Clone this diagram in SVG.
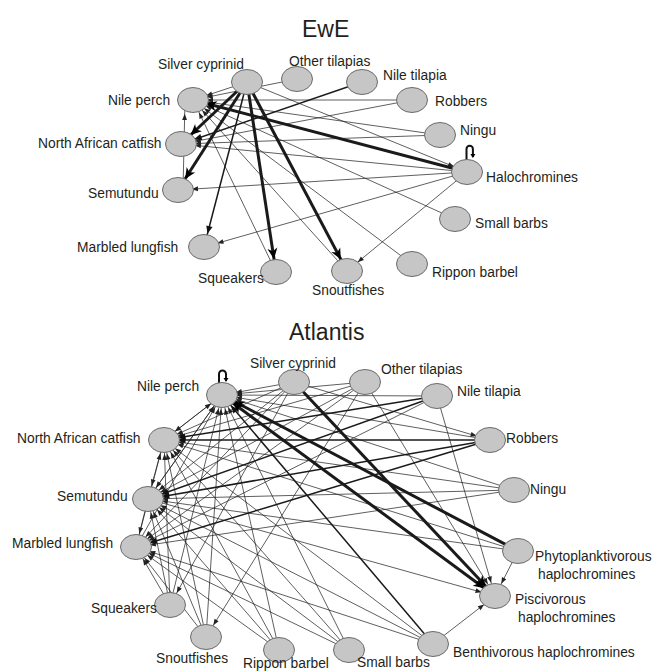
<svg xmlns="http://www.w3.org/2000/svg" width="656" height="672" viewBox="0 0 656 672">
<style>
text{font-family:"Liberation Sans",Arial,sans-serif;font-size:13.8px;fill:#231f20}
.title{font-size:23px}
ellipse{fill:#c6c6c6;stroke:#6a6a6a;stroke-width:1}
line{stroke:#1a1a1a}
.t{stroke-width:0.7;marker-end:url(#mt)}
.m{stroke-width:1.5;marker-end:url(#mm)}
.k{stroke-width:3;marker-end:url(#mk)}
.loop{fill:none;stroke:#111;stroke-width:2;marker-end:url(#ml)}
</style>
<defs>
<marker id="mt" markerUnits="userSpaceOnUse" markerWidth="1" markerHeight="1" orient="auto" overflow="visible"><path d="M-20,-2.4 L-13.8,0 L-20,2.4 z" fill="#222"/></marker>
<marker id="mm" markerUnits="userSpaceOnUse" markerWidth="1" markerHeight="1" orient="auto" overflow="visible"><path d="M-21.5,-3.2 L-13.6,0 L-21.5,3.2 z" fill="#111"/></marker>
<marker id="mk" markerUnits="userSpaceOnUse" markerWidth="1" markerHeight="1" orient="auto" overflow="visible"><path d="M-24,-5 L-13.2,0 L-24,5 L-21,0 z" fill="#000"/></marker>
<marker id="ms" markerUnits="userSpaceOnUse" markerWidth="1" markerHeight="1" orient="auto-start-reverse" overflow="visible"><path d="M-24,-5 L-13.2,0 L-24,5 L-21,0 z" fill="#000"/></marker>
<marker id="ml" markerUnits="userSpaceOnUse" markerWidth="1" markerHeight="1" orient="auto" overflow="visible"><path d="M-3,-2.5 L1,0 L-3,2.5 z" fill="#000"/></marker>
</defs>

<text class="title" x="302" y="37">EwE</text>
<text class="title" x="289" y="340">Atlantis</text>

<g id="connectors">
<!-- EwE -->
<line class="t" x1="247" y1="82" x2="193" y2="100"/>
<line class="t" x1="297" y1="79" x2="193" y2="100"/>
<line class="t" x1="412" y1="100" x2="193" y2="100"/>
<line class="t" x1="440" y1="135" x2="193" y2="100"/>
<line class="t" x1="455" y1="219" x2="193" y2="100"/>
<line class="t" x1="412" y1="264" x2="193" y2="100"/>
<line class="t" x1="347" y1="271" x2="193" y2="100"/>
<line class="t" x1="276" y1="272" x2="193" y2="100"/>
<line class="t" x1="183" y1="190" x2="185" y2="100"/>
<line class="t" x1="412" y1="100" x2="181" y2="144"/>
<line class="t" x1="440" y1="135" x2="181" y2="144"/>
<line class="t" x1="467" y1="172" x2="181" y2="144"/>
<line class="t" x1="467" y1="172" x2="178" y2="190"/>
<line class="t" x1="467" y1="172" x2="204" y2="247"/>
<line class="t" x1="467" y1="172" x2="347" y2="271"/>
<line class="t" x1="247" y1="82" x2="467" y2="172"/>
<line class="m" x1="362" y1="82" x2="181" y2="144"/>
<line class="m" x1="247" y1="82" x2="204" y2="247"/>
<line class="k" x1="247" y1="82" x2="181" y2="144"/>
<line class="k" x1="247" y1="82" x2="178" y2="190"/>
<line class="k" x1="247" y1="82" x2="276" y2="272"/>
<line class="k" x1="247" y1="82" x2="347" y2="271"/>
<line class="k" x1="467" y1="172" x2="193" y2="100"/>
<path class="loop" d="M466.5,160 V149 A3.2,3.2 0 0 1 472.9,149 V157"/>

<!-- Atlantis -->
<line class="t" x1="294" y1="382" x2="222" y2="395"/>
<line class="t" x1="365" y1="382" x2="222" y2="395"/>
<line class="t" x1="437" y1="396" x2="222" y2="395"/>
<line class="t" x1="490" y1="440" x2="222" y2="395"/>
<line class="t" x1="514" y1="490" x2="222" y2="395"/>
<line class="t" x1="349" y1="650" x2="222" y2="395"/>
<line class="t" x1="279" y1="650" x2="222" y2="395"/>
<line class="t" x1="206" y1="637" x2="222" y2="395"/>
<line class="t" x1="170" y1="605" x2="222" y2="395"/>
<line class="t" x1="136" y1="547" x2="222" y2="395"/>
<line class="t" x1="148" y1="499" x2="222" y2="395"/>
<line class="t" x1="164" y1="440" x2="222" y2="395"/>

<line class="t" x1="294" y1="382" x2="164" y2="440"/>
<line class="t" x1="365" y1="382" x2="164" y2="440"/>
<line class="t" x1="514" y1="490" x2="164" y2="440"/>
<line class="t" x1="518" y1="551" x2="164" y2="440"/>
<line class="t" x1="433" y1="644" x2="164" y2="440"/>
<line class="t" x1="349" y1="650" x2="164" y2="440"/>
<line class="t" x1="279" y1="650" x2="164" y2="440"/>
<line class="t" x1="206" y1="637" x2="164" y2="440"/>
<line class="t" x1="170" y1="605" x2="164" y2="440"/>
<line class="t" x1="136" y1="547" x2="164" y2="440"/>
<line class="t" x1="222" y1="395" x2="164" y2="440"/>

<line class="t" x1="222" y1="395" x2="148" y2="499"/>
<line class="t" x1="294" y1="382" x2="148" y2="499"/>
<line class="t" x1="365" y1="382" x2="148" y2="499"/>
<line class="t" x1="514" y1="490" x2="148" y2="499"/>
<line class="t" x1="518" y1="551" x2="148" y2="499"/>
<line class="t" x1="433" y1="644" x2="148" y2="499"/>
<line class="t" x1="349" y1="650" x2="148" y2="499"/>
<line class="t" x1="279" y1="650" x2="148" y2="499"/>
<line class="t" x1="206" y1="637" x2="148" y2="499"/>
<line class="t" x1="170" y1="605" x2="148" y2="499"/>
<line class="t" x1="164" y1="440" x2="148" y2="499"/>

<line class="t" x1="294" y1="382" x2="136" y2="547"/>
<line class="t" x1="365" y1="382" x2="136" y2="547"/>
<line class="t" x1="437" y1="396" x2="136" y2="547"/>
<line class="t" x1="514" y1="490" x2="136" y2="547"/>
<line class="t" x1="433" y1="644" x2="136" y2="547"/>
<line class="t" x1="349" y1="650" x2="136" y2="547"/>
<line class="t" x1="279" y1="650" x2="136" y2="547"/>
<line class="t" x1="206" y1="637" x2="136" y2="547"/>
<line class="t" x1="170" y1="605" x2="136" y2="547"/>
<line class="t" x1="148" y1="499" x2="136" y2="547"/>

<line class="t" x1="294" y1="382" x2="170" y2="605"/>
<line class="t" x1="365" y1="382" x2="206" y2="637"/>
<line class="t" x1="294" y1="382" x2="490" y2="440"/>
<line class="t" x1="518" y1="551" x2="495" y2="596"/>
<line class="t" x1="433" y1="644" x2="495" y2="596"/>
<line class="t" x1="365" y1="382" x2="495" y2="596"/>
<line class="t" x1="437" y1="396" x2="495" y2="596"/>
<line class="t" x1="148" y1="499" x2="495" y2="596"/>

<line class="m" x1="437" y1="396" x2="164" y2="440"/>
<line class="m" x1="437" y1="396" x2="148" y2="499"/>
<line class="m" x1="490" y1="440" x2="164" y2="440"/>
<line class="m" x1="490" y1="440" x2="148" y2="499"/>
<line class="m" x1="490" y1="440" x2="136" y2="547"/>
<line class="m" x1="433" y1="644" x2="222" y2="395"/>

<line class="k" x1="518" y1="551" x2="222" y2="395"/>
<line class="k" x1="495" y1="596" x2="222" y2="395" style="marker-start:url(#ms)"/>
<line class="k" x1="294" y1="382" x2="495" y2="596"/>
<path class="loop" d="M219,383 V374 A3.5,3.5 0 0 1 226,374 V381"/>
</g>

<!-- EwE nodes -->
<g id="ewe-silver-cyprinid"><ellipse cx="247" cy="82" rx="15.5" ry="12.5"/><text x="158" y="69">Silver cyprinid</text></g>
<g id="ewe-other-tilapias"><ellipse cx="297" cy="79" rx="15.5" ry="12.5"/><text x="289" y="66">Other tilapias</text></g>
<g id="ewe-nile-tilapia"><ellipse cx="362" cy="82" rx="15.5" ry="12.5"/><text x="383" y="80">Nile tilapia</text></g>
<g id="ewe-robbers"><ellipse cx="412" cy="100" rx="15.5" ry="12.5"/><text x="435" y="106">Robbers</text></g>
<g id="ewe-ningu"><ellipse cx="440" cy="135" rx="15.5" ry="12.5"/><text x="460" y="135">Ningu</text></g>
<g id="ewe-halochromines"><ellipse cx="467" cy="172" rx="15.5" ry="12.5"/><text x="486" y="182">Halochromines</text></g>
<g id="ewe-small-barbs"><ellipse cx="455" cy="219" rx="15.5" ry="12.5"/><text x="475" y="228">Small barbs</text></g>
<g id="ewe-rippon-barbel"><ellipse cx="412" cy="264" rx="15.5" ry="12.5"/><text x="432" y="277">Rippon barbel</text></g>
<g id="ewe-snoutfishes"><ellipse cx="347" cy="271" rx="15.5" ry="12.5"/><text x="312" y="295">Snoutfishes</text></g>
<g id="ewe-squeakers"><ellipse cx="276" cy="272" rx="15.5" ry="12.5"/><text x="198" y="283">Squeakers</text></g>
<g id="ewe-marbled-lungfish"><ellipse cx="204" cy="247" rx="15.5" ry="12.5"/><text x="77" y="252">Marbled lungfish</text></g>
<g id="ewe-semutundu"><ellipse cx="178" cy="190" rx="15.5" ry="12.5"/><text x="88" y="198">Semutundu</text></g>
<g id="ewe-north-african-catfish"><ellipse cx="181" cy="144" rx="15.5" ry="12.5"/><text x="38" y="148">North African catfish</text></g>
<g id="ewe-nile-perch"><ellipse cx="193" cy="100" rx="15.5" ry="12.5"/><text x="108" y="105">Nile perch</text></g>

<!-- Atlantis nodes -->
<g id="atl-nile-perch"><ellipse cx="222" cy="395" rx="15.5" ry="12.5"/><text x="137" y="391">Nile perch</text></g>
<g id="atl-silver-cyprinid"><ellipse cx="294" cy="382" rx="15.5" ry="12.5"/><text x="250" y="368">Silver cyprinid</text></g>
<g id="atl-other-tilapias"><ellipse cx="365" cy="382" rx="15.5" ry="12.5"/><text x="381" y="374">Other tilapias</text></g>
<g id="atl-nile-tilapia"><ellipse cx="437" cy="396" rx="15.5" ry="12.5"/><text x="457" y="396">Nile tilapia</text></g>
<g id="atl-robbers"><ellipse cx="490" cy="440" rx="15.5" ry="12.5"/><text x="506" y="443">Robbers</text></g>
<g id="atl-ningu"><ellipse cx="514" cy="490" rx="15.5" ry="12.5"/><text x="530" y="494">Ningu</text></g>
<g id="atl-phytoplanktivorous"><ellipse cx="518" cy="551" rx="15.5" ry="12.5"/><text x="535" y="561">Phytoplanktivorous</text><text x="538" y="579">haplochromines</text></g>
<g id="atl-piscivorous"><ellipse cx="495" cy="596" rx="15.5" ry="12.5"/><text x="515" y="604">Piscivorous</text><text x="518" y="622">haplochromines</text></g>
<g id="atl-benthivorous"><ellipse cx="433" cy="644" rx="15.5" ry="12.5"/><text x="453" y="657">Benthivorous haplochromines</text></g>
<g id="atl-small-barbs"><ellipse cx="349" cy="650" rx="15.5" ry="12.5"/><text x="357" y="667">Small barbs</text></g>
<g id="atl-rippon-barbel"><ellipse cx="279" cy="650" rx="15.5" ry="12.5"/><text x="243" y="668">Rippon barbel</text></g>
<g id="atl-snoutfishes"><ellipse cx="206" cy="637" rx="15.5" ry="12.5"/><text x="156" y="663">Snoutfishes</text></g>
<g id="atl-squeakers"><ellipse cx="170" cy="605" rx="15.5" ry="12.5"/><text x="91" y="613">Squeakers</text></g>
<g id="atl-marbled-lungfish"><ellipse cx="136" cy="547" rx="15.5" ry="12.5"/><text x="12" y="548">Marbled lungfish</text></g>
<g id="atl-semutundu"><ellipse cx="148" cy="499" rx="15.5" ry="12.5"/><text x="57" y="501">Semutundu</text></g>
<g id="atl-north-african-catfish"><ellipse cx="164" cy="440" rx="15.5" ry="12.5"/><text x="17" y="443">North African catfish</text></g>
</svg>
